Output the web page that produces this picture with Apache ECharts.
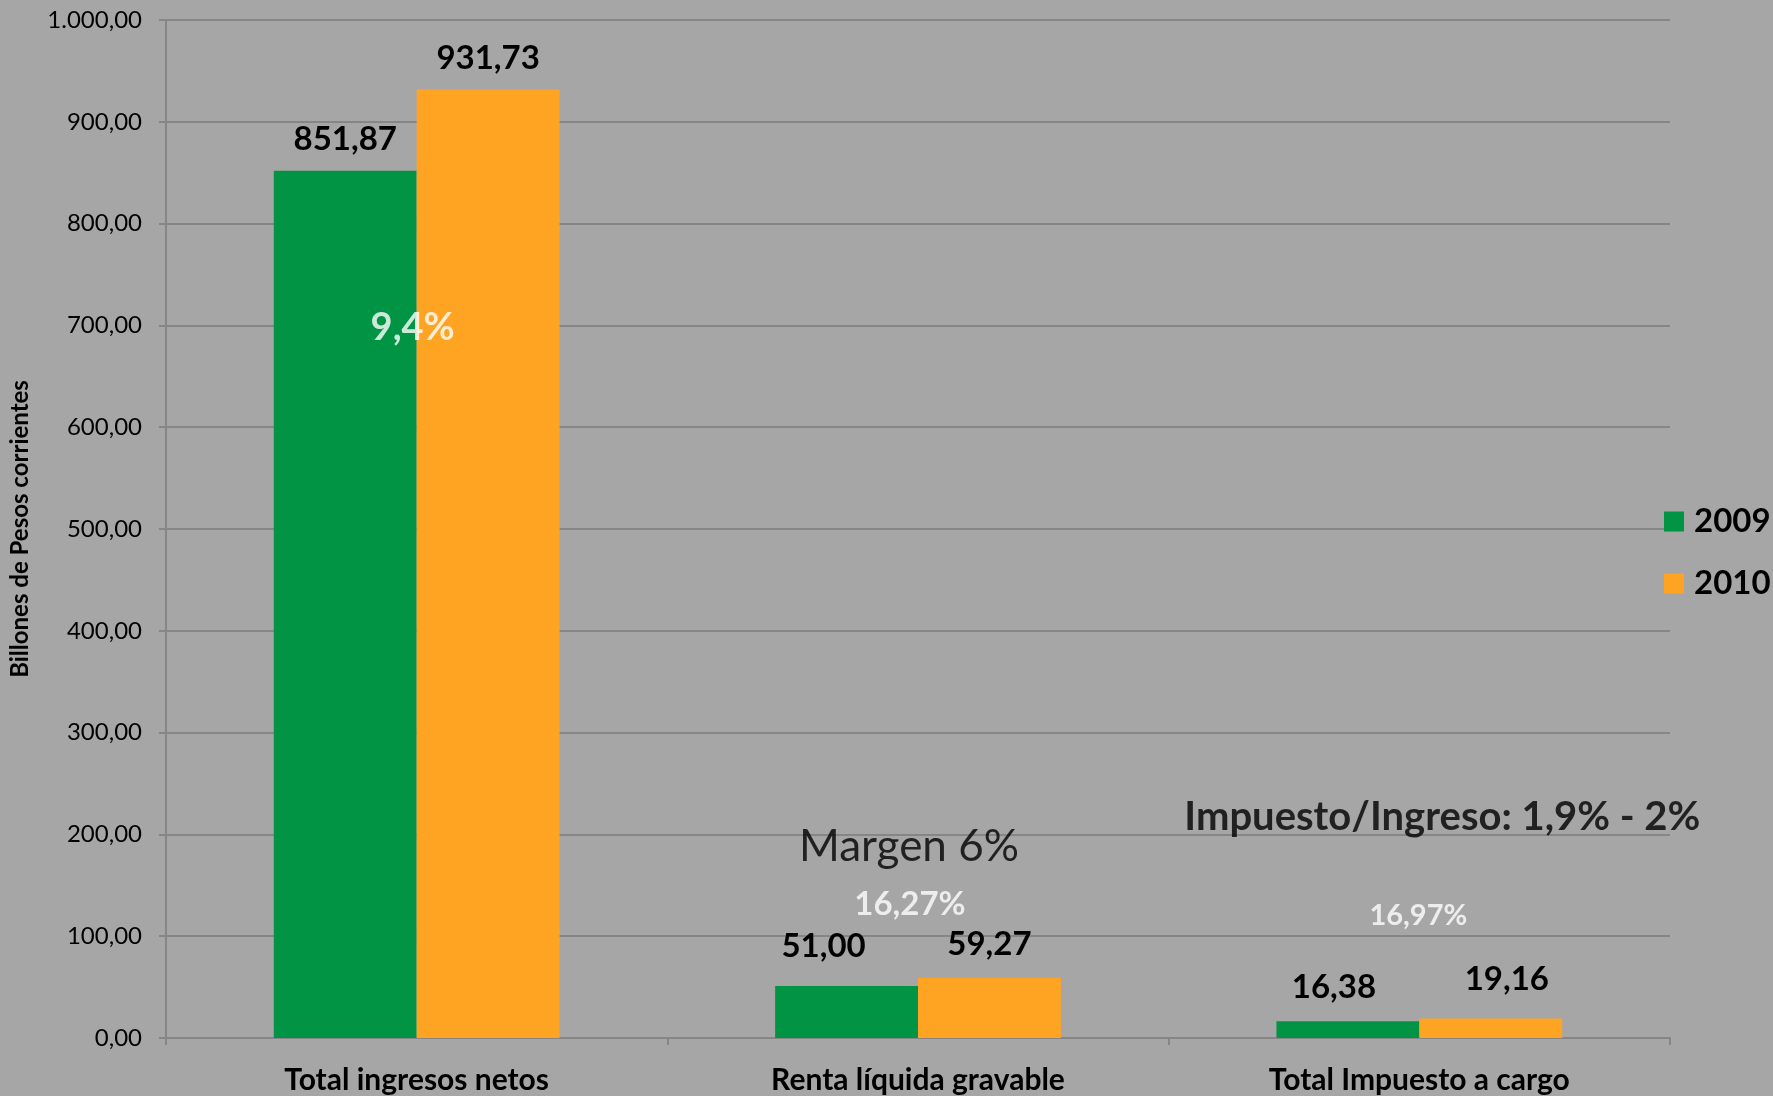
<!DOCTYPE html>
<html>
<head>
<meta charset="utf-8">
<script src="https://cdn.jsdelivr.net/npm/echarts@6/dist/echarts.min.js"></script>
<style>html,body{margin:0;padding:0;background:#a6a6a6;}#c{width:1773px;height:1096px;}</style>
</head>
<body>
<div id="c"></div>
<script>
var categories = ['Total ingresos netos', 'Renta líquida gravable', 'Total Impuesto a cargo'];
var seriesNames = ['2009', '2010'];
var values2009 = [851.87, 51.00, 16.38];
var values2010 = [931.73, 59.27, 19.16];
var yTicks = { min: 0, max: 1000, interval: 100 };
var axisTitle = 'Billones de Pesos corrientes';
// annotations: text, category, value position
var annoText = ['9,4%', 'Margen 6%', '16,27%', 'Impuesto/Ingreso: 1,9% - 2%', '16,97%'];
var annoCat = [0, 1, 1, 2, 2];
var annoVal = [698, 188, 131, 217, 120];

var FONT = 'Lato';
function fmt(v){
  var s = v.toFixed(2).split('.');
  s[0] = s[0].replace(/\B(?=(\d{3})+(?!\d))/g, '.');
  return s[0] + ',' + s[1];
}
var annoStyles = [
  {color:'#ffffff', fontWeight:'bold', fontSize:38, offset:[-4,0]},
  {color:'#000000', fontWeight:'normal', fontSize:44, offset:[-9,0]},
  {color:'#ffffff', fontWeight:'bold', fontSize:33, offset:[-8,0]},
  {color:'#000000', fontWeight:'bold', fontSize:40, offset:[23,0]},
  {color:'#ffffff', fontWeight:'bold', fontSize:29, offset:[-1,0]}
];
var annoData = annoText.map(function(t,i){
  var st = annoStyles[i];
  return {
    value: [categories[annoCat[i]], annoVal[i]],
    label: {show:true, position:'inside', formatter: t, color: st.color, fontWeight: st.fontWeight,
            fontSize: st.fontSize, fontFamily: FONT, offset: st.offset}
  };
});
var labelDist = [[15, 23, 17], [15, 17, 23]];
var labelShift = [[0, -23, -14], [0, 0, 16]];
function barData(vals, si){
  return vals.map(function(v, i){
    return { value: v, label: { distance: labelDist[si][i], offset: [labelShift[si][i], 0] } };
  });
}
var barLabel = { show: true, position: 'top', formatter: function(p){return fmt(p.value);},
                 fontFamily: FONT, fontWeight: 'bold', fontSize: 33, color: '#000' };

var chart = echarts.init(document.getElementById('c'), null, {renderer:'canvas'});
chart.setOption({
  backgroundColor: '#a6a6a6',
  animation: false,
  grid: { left: 163, right: 103, top: 20, bottom: 58, containLabel: false },
  legend: {
    data: seriesNames,
    orient: 'vertical',
    left: 1664, top: 505, padding: 0,
    itemWidth: 20, itemHeight: 20, itemGap: 29,
    icon: 'rect',
    textStyle: { fontFamily: FONT, fontWeight: 'bold', fontSize: 33, color: '#000', lineHeight: 32, padding:[0,0,0,5] }
  },
  xAxis: {
    type: 'category',
    data: categories,
    axisLine: { lineStyle: { color: '#868686', width: 2 } },
    axisTick: { show: true, alignWithLabel: false, length: 7, lineStyle: { color: '#868686', width: 2 } },
    axisLabel: { fontFamily: FONT, fontWeight: 'bold', fontSize: 30, color: '#000', margin: 27 },
    splitLine: { show: false }
  },
  yAxis: {
    type: 'value',
    min: yTicks.min, max: yTicks.max, interval: yTicks.interval,
    name: axisTitle,
    nameLocation: 'middle',
    nameGap: 134,
    nameTextStyle: { fontFamily: FONT, fontWeight: 'bold', fontSize: 24, color: '#000' },
    axisLine: { show: true, lineStyle: { color: '#868686', width: 2 } },
    axisTick: { show: true, length: 7, lineStyle: { color: '#868686', width: 2 } },
    axisLabel: { fontFamily: FONT, fontSize: 24, color: '#000', margin: 24, formatter: fmt },
    splitLine: { lineStyle: { color: '#868686', width: 2 } }
  },
  series: [
    {
      name: seriesNames[0], type: 'bar', data: barData(values2009, 0),
      barGap: '0%', barCategoryGap: '43%',
      itemStyle: { color: '#009444' },
      label: barLabel
    },
    {
      name: seriesNames[1], type: 'bar', data: barData(values2010, 1),
      barGap: '0%', barCategoryGap: '43%',
      itemStyle: { color: '#ffa322' },
      label: barLabel
    },
    {
      name: 'anno', type: 'scatter', symbolSize: 0, silent: true,
      data: annoData, z: 10
    }
  ]
});
</script>
</body>
</html>
